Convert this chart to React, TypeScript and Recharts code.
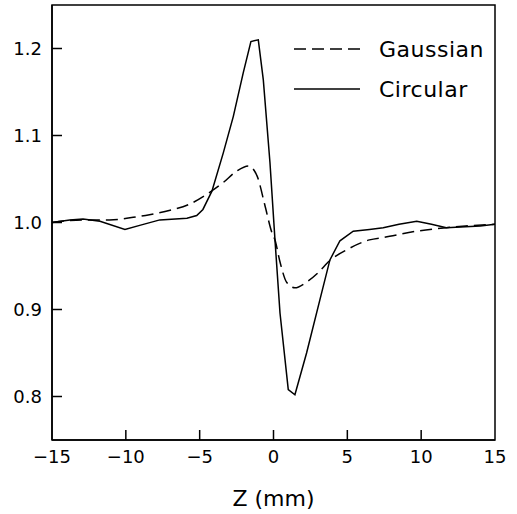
import React from 'react';
import { LineChart, Line, XAxis, YAxis, Legend, ReferenceArea } from 'recharts';

// z positions (mm) and normalised values
const gaussianZ = [-15, -12.9, -11.1, -9.5, -8.4, -7, -5.7, -4.2, -3.4, -2.5, -1.7, -1.1, -0.6, -0.1, 0.1, 0.45, 0.9, 1.45, 2.2, 3.0, 3.8, 5.0, 6.5, 7.5, 9.7, 11.7, 13, 15];
const gaussianV = [1.0, 1.003, 1.003, 1.006, 1.009, 1.014, 1.021, 1.036, 1.046, 1.059, 1.065, 1.053, 1.021, 0.988, 0.98, 0.954, 0.931, 0.925, 0.931, 0.942, 0.956, 0.969, 0.98, 0.983, 0.99, 0.994, 0.996, 0.998];

const circularZ = [-15, -13.8, -12.9, -11.75, -10.06, -9, -7.7, -5.86, -5.2, -4.78, -4.17, -3.4, -2.72, -2.05, -1.53, -1.03, -0.69, -0.24, 0.1, 0.44, 1.0, 1.45, 2.24, 3.14, 3.82, 4.5, 5.4, 6.5, 7.43, 8.5, 9.7, 10.7, 11.7, 13, 14, 15];
const circularV = [1.0, 1.003, 1.004, 1.0015, 0.992, 0.997, 1.003, 1.005, 1.008, 1.015, 1.036, 1.08, 1.122, 1.172, 1.208, 1.21, 1.164, 1.069, 0.98, 0.896, 0.808, 0.802, 0.85, 0.911, 0.957, 0.979, 0.99, 0.992, 0.994, 0.998, 1.0015, 0.998, 0.994, 0.995, 0.996, 0.998];

const seriesOrder = ['Gaussian', 'Circular'];
const xTicks = [-15, -10, -5, 0, 5, 10, 15];
const yTicks = [0.8, 0.9, 1.0, 1.1, 1.2];

const gaussianData = gaussianZ.map((z, i) => ({ z, v: gaussianV[i] }));
const circularData = circularZ.map((z, i) => ({ z, v: circularV[i] }));

const FONT = 'DejaVu Sans';
const TICK_IN = 10;
const X_MARGIN = 9;
const Y_MARGIN = 10;

// tick label plus a short inward tick mark
const XTick = (props: any) => {
  const { x, y, payload } = props;
  const v = payload.value;
  const label = v < 0 ? `\u2212${Math.abs(v)}` : `${v}`;
  const base = y - X_MARGIN;
  const edge = v === -15 || v === 15;
  return (
    <g>
      {!edge && <path d={`M${x},${base}V${base - TICK_IN}`} stroke="#000" strokeWidth={1.5} fill="none" />}
      <text x={x} y={y} dy="0.78em" textAnchor="middle" fill="#000" fontSize={18} fontFamily={FONT}>{label}</text>
    </g>
  );
};

const YTick = (props: any) => {
  const { x, y, payload } = props;
  const base = x + Y_MARGIN;
  return (
    <g>
      <path d={`M${base},${y}H${base + TICK_IN}`} stroke="#000" strokeWidth={1.5} fill="none" />
      <text x={x} y={y} dy="0.36em" textAnchor="end" fill="#000" fontSize={18} fontFamily={FONT}>{payload.value.toFixed(1)}</text>
    </g>
  );
};

const renderLegend = (props: any) => {
  const items = [...(props.payload || [])].sort(
    (a: any, b: any) => seriesOrder.indexOf(a.value) - seriesOrder.indexOf(b.value)
  );
  return (
    <div>
      {items.map((entry: any) => (
        <div key={entry.value} style={{ display: 'flex', alignItems: 'center', height: 40 }}>
          <svg width={66} height={4} style={{ marginRight: 19 }}>
            <line
              x1={0} y1={2} x2={66} y2={2}
              stroke="#000"
              strokeWidth={1.5}
              strokeDasharray={entry.payload?.strokeDasharray}
            />
          </svg>
          <span style={{ fontFamily: FONT, fontSize: 22, color: '#000', letterSpacing: 0.5 }}>{entry.value}</span>
        </div>
      ))}
    </div>
  );
};

export default function App() {
  return (
    <div style={{ position: 'absolute', left: 0, top: 0, background: '#fff' }}>
      <LineChart width={517} height={514} margin={{ top: 5, right: 22, left: 0, bottom: 0 }}>
        <XAxis
          dataKey="z"
          type="number"
          domain={[-15, 15]}
          ticks={xTicks}
          allowDuplicatedCategory={false}
          height={74}
          axisLine={{ stroke: '#000', strokeWidth: 1.5 }}
          tickLine={false}
          tickSize={0}
          tickMargin={X_MARGIN}
          tick={(p: any) => <XTick {...p} />}
          label={{ value: 'Z (mm)', position: 'insideBottom', offset: 8, fill: '#000', fontSize: 22, fontFamily: FONT }}
        />
        <YAxis
          type="number"
          domain={[0.75, 1.25]}
          ticks={yTicks}
          width={52}
          axisLine={{ stroke: '#000', strokeWidth: 1.5 }}
          tickLine={false}
          tickSize={0}
          tickMargin={Y_MARGIN}
          tick={(p: any) => <YTick {...p} />}
        />
        <ReferenceArea x1={-15} x2={15} y1={0.75} y2={1.25} fill="none" stroke="#000" strokeWidth={1.5} />
        <Legend
          layout="vertical"
          verticalAlign="middle"
          align="center"
          content={renderLegend}
          wrapperStyle={{ top: 29, left: 294, width: 210, bottom: 'auto', right: 'auto' }}
        />
        <Line
          data={gaussianData}
          dataKey="v"
          name="Gaussian"
          type="monotone"
          stroke="#000"
          strokeWidth={1.5}
          strokeDasharray="12 6"
          dot={false}
          isAnimationActive={false}
        />
        <Line
          data={circularData}
          dataKey="v"
          name="Circular"
          type="linear"
          stroke="#000"
          strokeWidth={1.5}
          dot={false}
          isAnimationActive={false}
        />
      </LineChart>
    </div>
  );
}
